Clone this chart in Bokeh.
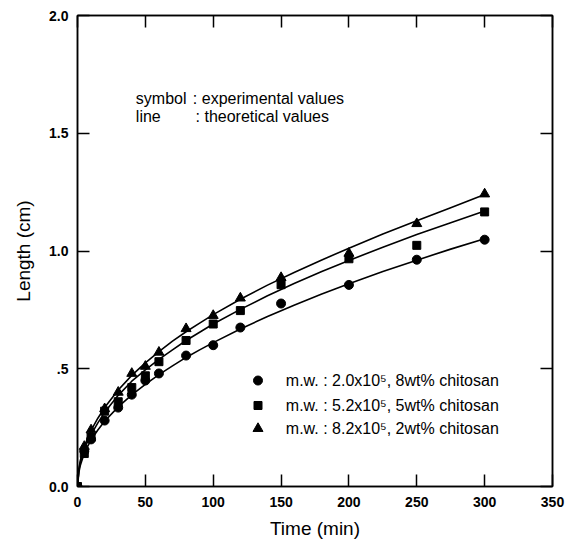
from bokeh.plotting import figure
from bokeh.models import LinearAxis, FixedTicker, Range1d, Label
from bokeh.embed import file_html
from bokeh.resources import INLINE

# experimental data
t_exp = [0, 5, 10, 20, 30, 40, 50, 60, 80, 100, 120, 150, 200, 250, 300]
exp_a = [0, 0.15, 0.20, 0.28, 0.335, 0.39, 0.45, 0.48, 0.556, 0.60, 0.675, 0.777, 0.856, 0.963, 1.048]
exp_b = [0, 0.14, 0.21, 0.32, 0.36, 0.42, 0.47, 0.53, 0.62, 0.69, 0.747, 0.857, 0.967, 1.024, 1.166]
exp_c = [0, 0.17, 0.24, 0.33, 0.40, 0.48, 0.51, 0.57, 0.67, 0.726, 0.80, 0.887, 0.99, 1.116, 1.242]

# theoretical curves
t_th = [0, 1, 2, 3, 5, 7, 10, 15, 20, 30, 40, 50, 60, 70, 80, 90, 100,
        120, 140, 160, 180, 200, 225, 250, 275, 300]
th_a = [0, 0.06, 0.088, 0.106, 0.14, 0.165, 0.198, 0.24, 0.277, 0.338, 0.389, 0.434, 0.475,
        0.512, 0.548, 0.58, 0.611, 0.669, 0.722, 0.771, 0.817, 0.861, 0.913, 0.961, 1.008, 1.052]
th_b = [0, 0.07, 0.1, 0.122, 0.158, 0.185, 0.22, 0.27, 0.315, 0.387, 0.447, 0.495, 0.54,
        0.58, 0.62, 0.655, 0.69, 0.752, 0.81, 0.863, 0.913, 0.96, 1.016, 1.07, 1.12, 1.17]
th_c = [0, 0.075, 0.108, 0.13, 0.168, 0.198, 0.238, 0.29, 0.335, 0.41, 0.472, 0.525, 0.573,
        0.617, 0.657, 0.694, 0.73, 0.795, 0.855, 0.91, 0.962, 1.012, 1.072, 1.128, 1.184, 1.24]

x_ticks = [0, 50, 100, 150, 200, 250, 300, 350]
y_ticks = [0.0, 0.5, 1.0, 1.5, 2.0]
y_tick_labels = {0.0: "0.0", 0.5: ".5", 1.0: "1.0", 1.5: "1.5", 2.0: "2.0"}

legend_labels = ["m.w. : 2.0x10\u2075, 8wt% chitosan",
                 "m.w. : 5.2x10\u2075, 5wt% chitosan",
                 "m.w. : 8.2x10\u2075, 2wt% chitosan"]

FONT = "Liberation Sans"

p = figure(width=567, height=554, output_backend="svg", toolbar_location=None,
           x_range=Range1d(0, 350), y_range=Range1d(0, 2.0),
           min_border_left=77, min_border_right=15, min_border_top=15, min_border_bottom=68,
           x_axis_label="Time (min)", y_axis_label="Length (cm)")
p.grid.visible = False
p.outline_line_color = "black"
p.outline_line_width = 1.5
p.background_fill_color = "white"
p.border_fill_color = "white"

def style_axis(ax):
    ax.major_tick_in = 12
    ax.major_tick_out = 0
    ax.minor_tick_line_color = None
    ax.axis_line_color = "black"
    ax.axis_line_width = 1.5
    ax.major_tick_line_width = 1.5
    ax.major_label_text_font = FONT
    ax.major_label_text_font_size = "14px"
    ax.major_label_text_font_style = "bold"
    ax.major_label_text_color = "black"
    ax.axis_label_text_font = FONT
    ax.axis_label_text_font_size = "19px"
    ax.axis_label_text_font_style = "normal"
    ax.axis_label_text_color = "black"

xa = p.xaxis[0]
ya = p.yaxis[0]
xa.ticker = FixedTicker(ticks=x_ticks)
ya.ticker = FixedTicker(ticks=y_ticks)
ya.major_label_overrides = y_tick_labels
style_axis(xa)
style_axis(ya)
xa.major_label_standoff = 10
ya.major_label_standoff = 9
xa.axis_label_standoff = 8
ya.axis_label_standoff = 12

top = LinearAxis(ticker=FixedTicker(ticks=x_ticks))
right = LinearAxis(ticker=FixedTicker(ticks=y_ticks))
style_axis(top)
style_axis(right)
top.major_label_overrides = {t: "" for t in x_ticks}
right.major_label_overrides = {t: "" for t in y_ticks}
top.major_label_standoff = 0
right.major_label_standoff = 0
p.add_layout(top, "above")
p.add_layout(right, "right")

for th in (th_a, th_b, th_c):
    p.line(t_th, th, line_color="black", line_width=1.6)

p.scatter(t_exp, exp_a, marker="circle", size=9, color="black")
p.scatter(t_exp, exp_b, marker="square", size=8, color="black")
p.scatter(t_exp, exp_c, marker="triangle", size=10, color="black")

# legend (manual)
leg_x_marker = [133]
leg_ys = [0.45, 0.344, 0.246]
markers = ["circle", "square", "triangle"]
sizes = [9, 8, 10]
for yv, mk, sz, lab in zip(leg_ys, markers, sizes, legend_labels):
    p.scatter(leg_x_marker, [yv], marker=mk, size=sz, color="black")
    p.add_layout(Label(x=153.5, y=yv, text=lab, text_font=FONT, text_font_size="16px",
                       text_baseline="middle", text_color="black"))

for txt, xv, yv in [("symbol", 43, 1.647), (": experimental values", 85, 1.647),
                    ("line", 43, 1.570), (": theoretical values", 87, 1.570)]:
    p.add_layout(Label(x=xv, y=yv, text=txt, text_font=FONT,
                       text_font_size="16px", text_baseline="middle", text_color="black"))

open("out.html", "w").write(file_html(p, INLINE))
